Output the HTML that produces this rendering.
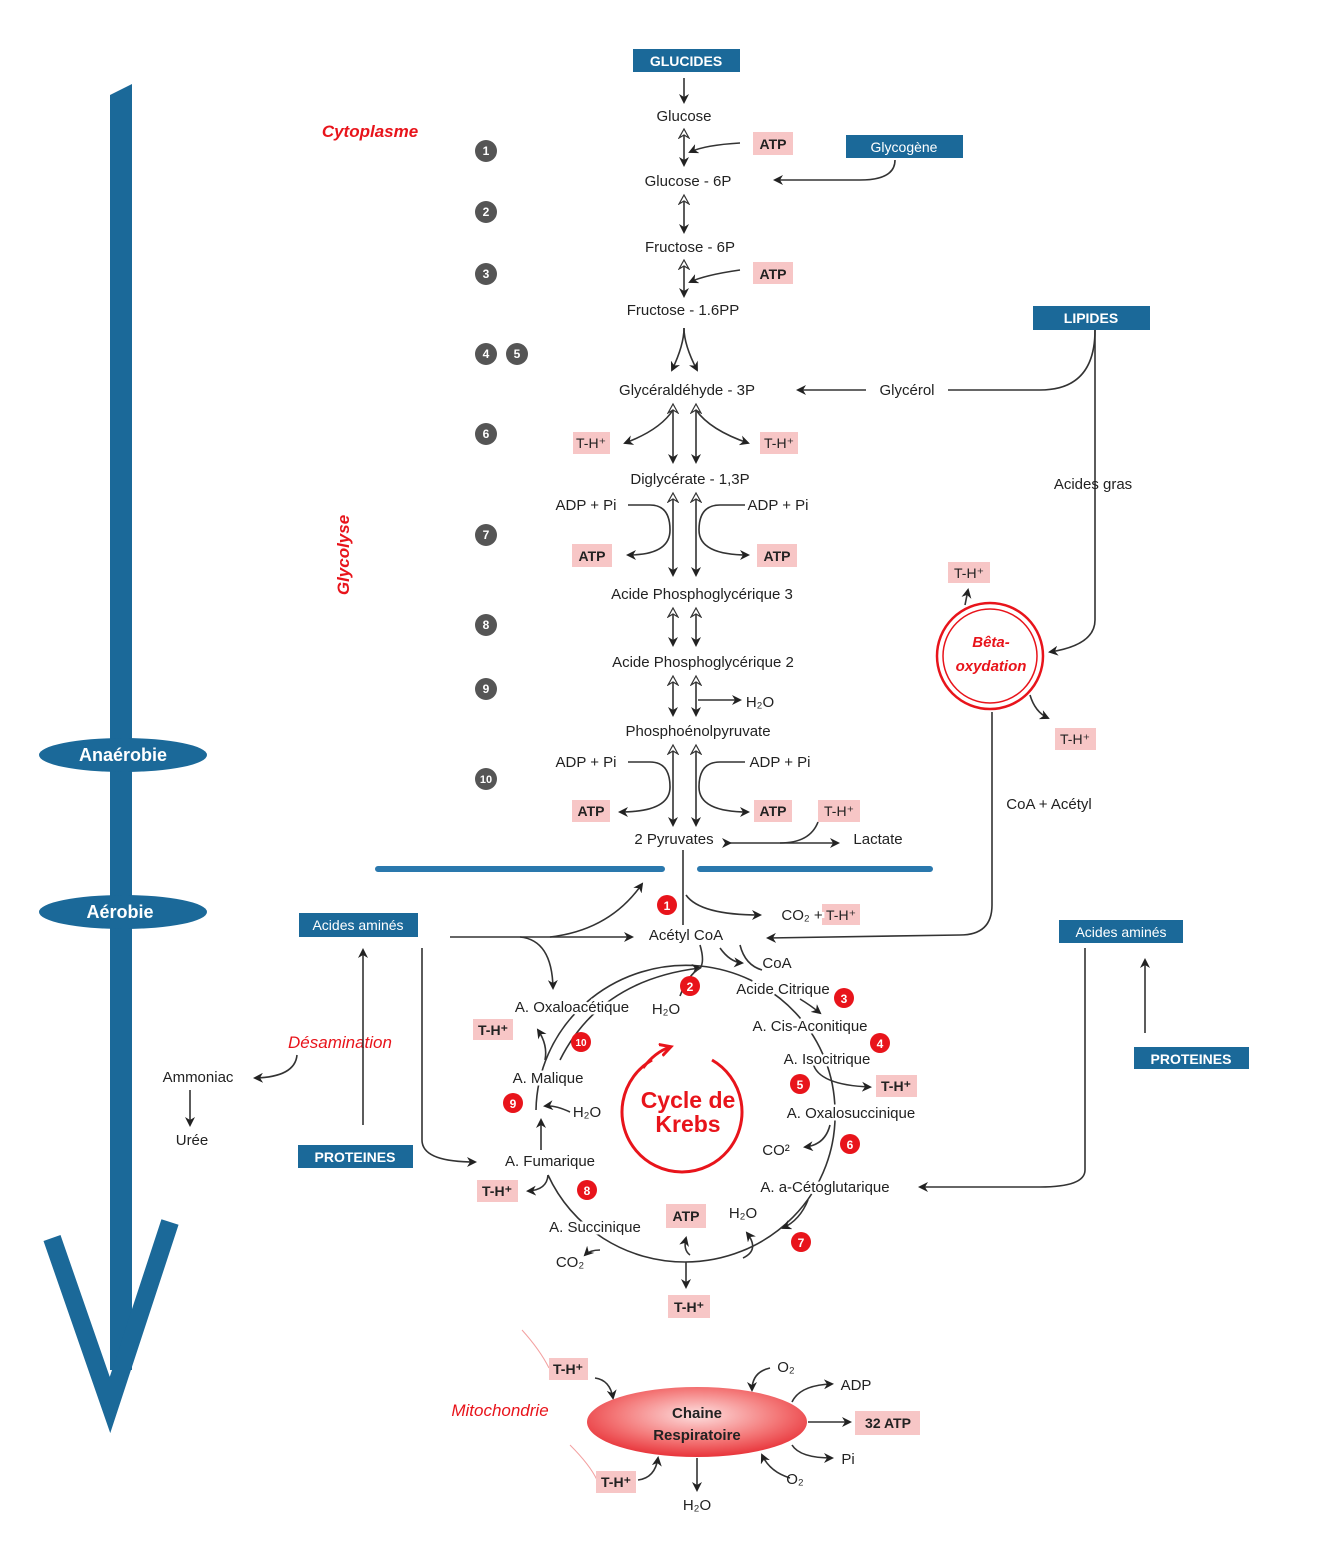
<!DOCTYPE html>
<html><head><meta charset="utf-8"><style>
body{margin:0;background:#fff}
svg{display:block}
text{font-family:"Liberation Sans",sans-serif;font-size:15px;fill:#222}
.m{text-anchor:middle}
.bw{fill:#fff;font-weight:bold;font-size:14px;text-anchor:middle}
.pk{fill:#f7c6c6}
.pt{font-weight:bold;font-size:14px;text-anchor:middle;fill:#222}
.bl{fill:#1b6999}
.ln{stroke:#333;stroke-width:1.6;fill:none}
.rd{fill:#e8141b;font-style:italic;font-weight:bold;font-size:17px}
.lab{paint-order:stroke;stroke:#fff;stroke-width:5px}
</style></head><body>
<svg width="1334" height="1543" viewBox="0 0 1334 1543" xmlns="http://www.w3.org/2000/svg">
<defs>
<marker id="a" markerWidth="10" markerHeight="10" refX="8" refY="5" orient="auto" markerUnits="userSpaceOnUse"><path d="M0,0 L10,5 L0,10 L3,5z" fill="#222"/></marker>
<marker id="h" markerWidth="12" markerHeight="12" refX="9" refY="6" orient="auto-start-reverse" markerUnits="userSpaceOnUse"><path d="M1,1 L10,6 L1,11 L4,6z" fill="#fff" stroke="#333" stroke-width="1.2"/></marker>
<marker id="r" markerWidth="14" markerHeight="14" refX="10" refY="7" orient="auto" markerUnits="userSpaceOnUse"><path d="M0,1 L11,7 L0,13" fill="none" stroke="#e8141b" stroke-width="3"/></marker>
<radialGradient id="g" cx="50%" cy="40%" r="60%"><stop offset="0" stop-color="#fde0e0"/><stop offset="0.6" stop-color="#f47a7a"/><stop offset="1" stop-color="#e8343a"/></radialGradient>
</defs>

<!-- big blue arrow -->
<path d="M110,95 L132,84 L132,1370 L110,1370z" fill="#1b6999"/>
<path d="M52,1238 L110,1405 L170,1222" fill="none" stroke="#1b6999" stroke-width="18" stroke-linejoin="miter"/>
<ellipse cx="123" cy="755" rx="84" ry="17" fill="#1b6999"/>
<text x="123" y="761" class="bw" style="font-size:18px">Anaérobie</text>
<ellipse cx="123" cy="912" rx="84" ry="17" fill="#1b6999"/>
<text x="120" y="918" class="bw" style="font-size:18px">Aérobie</text>

<!-- red labels -->
<text x="370" y="137" class="rd m">Cytoplasme</text>
<text transform="translate(349,555) rotate(-90)" class="rd m">Glycolyse</text>
<text x="340" y="1048" class="rd m" style="font-weight:normal">Désamination</text>
<text x="500" y="1416" class="rd m" style="font-weight:normal">Mitochondrie</text>

<!-- blue boxes -->
<rect x="633" y="49" width="107" height="23" class="bl"/><text x="686" y="66" class="bw">GLUCIDES</text>
<rect x="846" y="135" width="117" height="23" class="bl"/><text x="904" y="152" class="bw" style="font-weight:normal">Glycogène</text>
<rect x="1033" y="306" width="117" height="24" class="bl"/><text x="1091" y="323" class="bw">LIPIDES</text>
<rect x="299" y="913" width="119" height="24" class="bl"/><text x="358" y="930" class="bw" style="font-weight:normal">Acides aminés</text>
<rect x="298" y="1145" width="115" height="23" class="bl"/><text x="355" y="1162" class="bw">PROTEINES</text>
<rect x="1059" y="920" width="124" height="23" class="bl"/><text x="1121" y="937" class="bw" style="font-weight:normal">Acides aminés</text>
<rect x="1134" y="1047" width="115" height="22" class="bl"/><text x="1191" y="1064" class="bw">PROTEINES</text>

<!-- arrows -->
<g class="ln">
<path d="M684,78 V102" marker-end="url(#a)"/>
<path d="M684,130 V165" marker-start="url(#h)" marker-end="url(#a)"/>
<path d="M740,143 Q705,145 690,152" marker-end="url(#a)"/>
<path d="M895,160 Q895,180 860,180 H775" marker-end="url(#a)"/>
<path d="M684,196 V232" marker-start="url(#h)" marker-end="url(#a)"/>
<path d="M684,261 V296" marker-start="url(#h)" marker-end="url(#a)"/>
<path d="M740,270 Q705,275 690,282" marker-end="url(#a)"/>
<path d="M684,328 Q684,345 672,370" marker-end="url(#a)"/>
<path d="M684,328 Q684,345 697,370" marker-end="url(#a)"/>
<path d="M1095,330 Q1095,390 1040,390 H948"/>
<path d="M866,390 H798" marker-end="url(#a)"/>
<path d="M1095,330 V620 Q1095,645 1050,652" marker-end="url(#a)"/>
<path d="M673,405 V462" marker-start="url(#h)" marker-end="url(#a)"/>
<path d="M696,405 V462" marker-start="url(#h)" marker-end="url(#a)"/>
<path d="M673,410 Q660,430 625,443" marker-end="url(#a)"/>
<path d="M696,410 Q710,430 748,443" marker-end="url(#a)"/>
<path d="M673,494 V575" marker-start="url(#h)" marker-end="url(#a)"/>
<path d="M696,494 V575" marker-start="url(#h)" marker-end="url(#a)"/>
<path d="M628,505 H650 Q670,505 670,530 Q670,555 628,555"  marker-end="url(#a)"/>
<path d="M745,505 H720 Q699,505 699,530 Q699,555 748,555" marker-end="url(#a)"/>
<path d="M673,609 V645" marker-start="url(#h)" marker-end="url(#a)"/>
<path d="M696,609 V645" marker-start="url(#h)" marker-end="url(#a)"/>
<path d="M673,677 V715" marker-start="url(#h)" marker-end="url(#a)"/>
<path d="M696,677 V715" marker-start="url(#h)" marker-end="url(#a)"/>
<path d="M698,700 H740" marker-end="url(#a)"/>
<path d="M673,746 V825" marker-start="url(#h)" marker-end="url(#a)"/>
<path d="M696,746 V825" marker-start="url(#h)" marker-end="url(#a)"/>
<path d="M628,762 H650 Q670,762 670,787 Q670,812 620,812" marker-end="url(#a)"/>
<path d="M745,762 H720 Q699,762 699,787 Q699,812 748,812" marker-end="url(#a)"/>
<path d="M730,843 H838" marker-start="url(#a)" marker-end="url(#a)"/>
<path d="M818,822 Q810,843 780,843"/>
<path d="M992,712 V905 Q992,935 960,935 L768,938" marker-end="url(#a)"/>
<path d="M965,605 L968,590" marker-end="url(#a)"/>
<path d="M1030,695 Q1035,712 1048,718" marker-end="url(#a)"/>
<!-- krebs entry -->
<path d="M683,850 V925"/>
<path d="M686,895 Q700,915 760,915" marker-end="url(#a)"/>
<path d="M450,937 H632" marker-end="url(#a)"/>
<path d="M550,937 Q610,930 642,884" marker-end="url(#a)"/>
<path d="M520,937 Q552,940 553,988" marker-end="url(#a)"/>
<path d="M422,948 V1140 Q422,1162 475,1162" marker-end="url(#a)"/>
<path d="M1085,948 V1170 Q1085,1187 1040,1187 H920" marker-end="url(#a)"/>
<path d="M1145,1033 V960" marker-end="url(#a)"/>
<path d="M363,1125 V950" marker-end="url(#a)"/>
<path d="M297,1055 Q295,1077 255,1078" marker-end="url(#a)"/>
<path d="M190,1090 V1125" marker-end="url(#a)"/>
<!-- cycle -->
<path d="M685,1262 A150,147 0 0 1 548,1175 M536,1110 A150,147 0 0 1 700,966 M700,966 A150,147 0 0 1 835,1110 A150,147 0 0 1 685,1262"/>
<path d="M560,1060 Q600,980 700,968" marker-end="url(#a)"/>
<path d="M740,945 Q745,965 762,970"/>
<path d="M700,945 Q705,962 700,968"/>
<path d="M720,948 Q730,962 742,963" marker-end="url(#a)"/>
<path d="M680,996 Q688,975 700,968"/>
<path d="M800,999 Q810,1005 820,1013" marker-end="url(#a)"/>
<path d="M813,1063 Q818,1085 870,1087" marker-end="url(#a)"/>
<path d="M830,1125 Q825,1145 805,1147" marker-end="url(#a)"/>
<path d="M808,1200 Q800,1220 783,1228" marker-end="url(#a)"/>
<path d="M743,1258 Q760,1250 747,1233" marker-end="url(#a)"/>
<path d="M690,1255 Q683,1250 686,1238" marker-end="url(#a)"/>
<path d="M686,1262 V1287" marker-end="url(#a)"/>
<path d="M600,1250 Q590,1250 585,1255" marker-end="url(#a)"/>
<path d="M548,1175 Q547,1190 528,1191" marker-end="url(#a)"/>
<path d="M541,1150 V1120" marker-end="url(#a)"/>
<path d="M570,1112 Q555,1105 545,1106" marker-end="url(#a)"/>
<path d="M545,1060 Q548,1045 538,1030" marker-end="url(#a)"/>
<!-- resp chain -->
<path d="M595,1378 Q610,1380 613,1398" marker-end="url(#a)"/>
<path d="M638,1480 Q655,1478 658,1458" marker-end="url(#a)"/>
<path d="M770,1368 Q752,1372 752,1390" marker-end="url(#a)"/>
<path d="M790,1478 Q770,1472 762,1455" marker-end="url(#a)"/>
<path d="M792,1402 Q800,1385 832,1384" marker-end="url(#a)"/>
<path d="M808,1422 H850" marker-end="url(#a)"/>
<path d="M792,1445 Q800,1458 832,1458" marker-end="url(#a)"/>
<path d="M697,1458 V1490" marker-end="url(#a)"/>
</g>
<path d="M522,1330 Q540,1350 549,1368 M570,1445 Q590,1465 597,1480" stroke="#f3a0a0" fill="none"/>

<!-- pink boxes -->
<g>
<rect x="753" y="132" width="40" height="23" class="pk"/><text x="773" y="149" class="pt">ATP</text>
<rect x="753" y="262" width="40" height="22" class="pk"/><text x="773" y="279" class="pt">ATP</text>
<rect x="573" y="432" width="37" height="22" class="pk"/><text x="591" y="448" class="pt" style="font-weight:normal">T-H⁺</text>
<rect x="760" y="432" width="38" height="22" class="pk"/><text x="779" y="448" class="pt" style="font-weight:normal">T-H⁺</text>
<rect x="572" y="544" width="40" height="23" class="pk"/><text x="592" y="561" class="pt">ATP</text>
<rect x="757" y="544" width="40" height="23" class="pk"/><text x="777" y="561" class="pt">ATP</text>
<rect x="948" y="562" width="42" height="21" class="pk"/><text x="969" y="578" class="pt" style="font-weight:normal">T-H⁺</text>
<rect x="1055" y="728" width="41" height="22" class="pk"/><text x="1075" y="744" class="pt" style="font-weight:normal">T-H⁺</text>
<rect x="572" y="800" width="38" height="22" class="pk"/><text x="591" y="816" class="pt">ATP</text>
<rect x="754" y="800" width="38" height="22" class="pk"/><text x="773" y="816" class="pt">ATP</text>
<rect x="818" y="800" width="42" height="22" class="pk"/><text x="839" y="816" class="pt" style="font-weight:normal">T-H⁺</text>
<rect x="822" y="904" width="38" height="21" class="pk"/><text x="841" y="920" class="pt" style="font-weight:normal">T-H⁺</text>
<rect x="473" y="1019" width="40" height="21" class="pk"/><text x="493" y="1035" class="pt">T-H⁺</text>
<rect x="876" y="1075" width="41" height="22" class="pk"/><text x="896" y="1091" class="pt">T-H⁺</text>
<rect x="477" y="1180" width="41" height="22" class="pk"/><text x="497" y="1196" class="pt">T-H⁺</text>
<rect x="666" y="1204" width="40" height="24" class="pk"/><text x="686" y="1221" class="pt">ATP</text>
<rect x="668" y="1295" width="42" height="23" class="pk"/><text x="689" y="1312" class="pt">T-H⁺</text>
<rect x="549" y="1358" width="39" height="22" class="pk"/><text x="568" y="1374" class="pt">T-H⁺</text>
<rect x="596" y="1471" width="40" height="22" class="pk"/><text x="616" y="1487" class="pt">T-H⁺</text>
<rect x="855" y="1411" width="65" height="24" class="pk"/><text x="888" y="1428" class="pt">32 ATP</text>
</g>

<!-- gray step numbers -->
<g fill="#555">
<circle cx="486" cy="151" r="11"/><circle cx="486" cy="212" r="11"/><circle cx="486" cy="274" r="11"/>
<circle cx="486" cy="354" r="11"/><circle cx="517" cy="354" r="11"/><circle cx="486" cy="434" r="11"/>
<circle cx="486" cy="535" r="11"/><circle cx="486" cy="625" r="11"/><circle cx="486" cy="689" r="11"/><circle cx="486" cy="779" r="11"/>
</g>
<g>
<text x="486" y="155" class="bw" style="font-size:12px">1</text><text x="486" y="216" class="bw" style="font-size:12px">2</text>
<text x="486" y="278" class="bw" style="font-size:12px">3</text><text x="486" y="358" class="bw" style="font-size:12px">4</text>
<text x="517" y="358" class="bw" style="font-size:12px">5</text><text x="486" y="438" class="bw" style="font-size:12px">6</text>
<text x="486" y="539" class="bw" style="font-size:12px">7</text><text x="486" y="629" class="bw" style="font-size:12px">8</text>
<text x="486" y="693" class="bw" style="font-size:12px">9</text><text x="486" y="783" class="bw" style="font-size:11px">10</text>
</g>

<!-- glycolysis text -->
<text x="684" y="121" class="m lab">Glucose</text>
<text x="688" y="186" class="m lab">Glucose - 6P</text>
<text x="690" y="252" class="m lab">Fructose - 6P</text>
<text x="683" y="315" class="m lab">Fructose - 1.6PP</text>
<text x="687" y="395" class="m lab">Glycéraldéhyde - 3P</text>
<text x="907" y="395" class="m lab">Glycérol</text>
<text x="690" y="484" class="m lab">Diglycérate - 1,3P</text>
<text x="586" y="510" class="m">ADP + Pi</text>
<text x="778" y="510" class="m lab">ADP + Pi</text>
<text x="702" y="599" class="m lab">Acide Phosphoglycérique 3</text>
<text x="703" y="667" class="m lab">Acide Phosphoglycérique 2</text>
<text x="760" y="707" class="m">H₂O</text>
<text x="698" y="736" class="m lab">Phosphoénolpyruvate</text>
<text x="586" y="767" class="m">ADP + Pi</text>
<text x="780" y="767" class="m lab">ADP + Pi</text>
<text x="674" y="844" class="m lab">2 Pyruvates</text>
<text x="878" y="844" class="m">Lactate</text>
<text x="1093" y="489" class="m">Acides gras</text>
<text x="1049" y="809" class="m">CoA + Acétyl</text>
<text x="198" y="1082" class="m">Ammoniac</text>
<text x="192" y="1145" class="m">Urée</text>

<!-- horizontal membrane -->
<path d="M378,869 H662 M700,869 H930" stroke="#2a78ad" stroke-width="6" stroke-linecap="round"/>

<!-- beta oxidation -->
<circle cx="990" cy="656" r="53" fill="none" stroke="#e8141b" stroke-width="2.5"/>
<circle cx="990" cy="656" r="47" fill="none" stroke="#e8141b" stroke-width="1.5"/>
<text x="991" y="647" class="rd m" style="font-size:15px">Bêta-</text>
<text x="991" y="671" class="rd m" style="font-size:15px">oxydation</text>

<!-- Krebs labels -->
<g>
<text x="686" y="940" class="m lab">Acétyl CoA</text>
<text x="777" y="968" class="m lab">CoA</text>
<text x="783" y="994" class="m lab">Acide Citrique</text>
<text x="572" y="1012" class="m lab">A. Oxaloacétique</text>
<text x="666" y="1014" class="m lab">H₂O</text>
<text x="810" y="1031" class="m lab">A. Cis-Aconitique</text>
<text x="827" y="1064" class="m lab">A. Isocitrique</text>
<text x="548" y="1083" class="m lab">A. Malique</text>
<text x="587" y="1117" class="m lab">H₂O</text>
<text x="851" y="1118" class="m lab">A. Oxalosuccinique</text>
<text x="776" y="1155" class="m lab">CO²</text>
<text x="550" y="1166" class="m lab">A. Fumarique</text>
<text x="825" y="1192" class="m lab">A. a-Cétoglutarique</text>
<text x="743" y="1218" class="m lab">H₂O</text>
<text x="595" y="1232" class="m lab">A. Succinique</text>
<text x="570" y="1267" class="m lab">CO₂</text>
<text x="802" y="920" class="m lab">CO₂ +</text>
</g>

<!-- red numbers -->
<g fill="#e8141b">
<circle cx="667" cy="905" r="10"/><circle cx="690" cy="986" r="10"/><circle cx="844" cy="998" r="10"/>
<circle cx="880" cy="1043" r="10"/><circle cx="800" cy="1084" r="10"/><circle cx="850" cy="1144" r="10"/>
<circle cx="801" cy="1242" r="10"/><circle cx="587" cy="1190" r="10"/><circle cx="513" cy="1103" r="10"/><circle cx="581" cy="1042" r="10"/>
</g>
<g>
<text x="667" y="910" class="bw" style="font-size:12px">1</text><text x="690" y="991" class="bw" style="font-size:12px">2</text>
<text x="844" y="1003" class="bw" style="font-size:12px">3</text><text x="880" y="1048" class="bw" style="font-size:12px">4</text>
<text x="800" y="1089" class="bw" style="font-size:12px">5</text><text x="850" y="1149" class="bw" style="font-size:12px">6</text>
<text x="801" y="1247" class="bw" style="font-size:12px">7</text><text x="587" y="1195" class="bw" style="font-size:12px">8</text>
<text x="513" y="1108" class="bw" style="font-size:12px">9</text><text x="581" y="1046" class="bw" style="font-size:10px">10</text>
</g>

<!-- Krebs red cycle -->
<path d="M712,1060 A60,60 0 1 1 652,1060" fill="none" stroke="#e8141b" stroke-width="3"/>
<path d="M643,1068 Q655,1052 670,1047" fill="none" stroke="#e8141b" stroke-width="3" marker-end="url(#r)"/>
<text x="688" y="1108" class="m" style="fill:#e8141b;font-weight:bold;font-size:23px">Cycle de</text>
<text x="688" y="1132" class="m" style="fill:#e8141b;font-weight:bold;font-size:23px">Krebs</text>

<!-- chaine respiratoire -->
<ellipse cx="697" cy="1422" rx="110" ry="35" fill="url(#g)"/>
<text x="697" y="1418" class="m" style="font-weight:bold;font-size:15px">Chaine</text>
<text x="697" y="1440" class="m" style="font-weight:bold;font-size:15px">Respiratoire</text>
<text x="786" y="1372" class="m">O₂</text>
<text x="795" y="1484" class="m">O₂</text>
<text x="856" y="1390" class="m">ADP</text>
<text x="848" y="1464" class="m">Pi</text>
<text x="697" y="1510" class="m">H₂O</text>
</svg>
</body></html>
